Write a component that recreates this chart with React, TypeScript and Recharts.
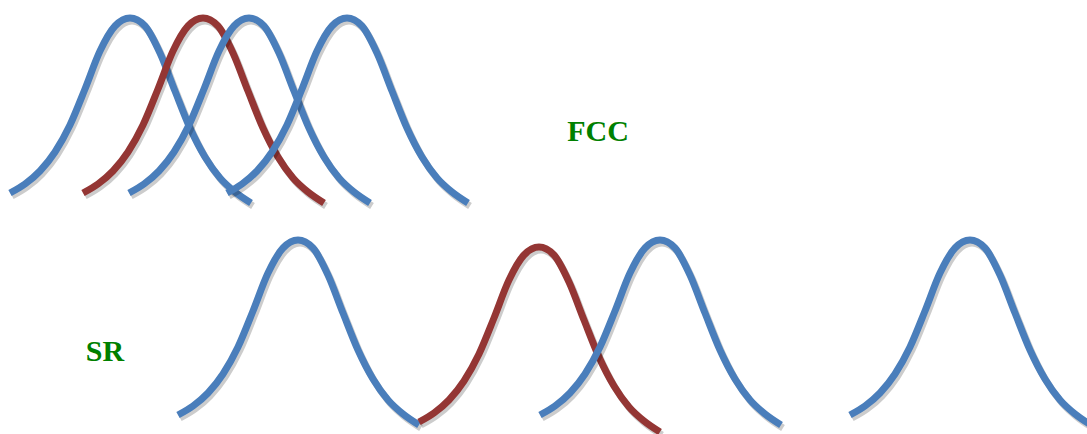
import React from "react";
import { LineChart, Line, XAxis, YAxis } from "recharts";

// Shared bell profile: horizontal offset from the peak (px)
// and how far below the peak the line lies (px).
const profileDx = [-120, -105, -90, -75, -60, -45, -30, -15, 0, 15, 30, 45, 60, 75, 90, 105, 121];
const profileDy = [175, 166, 153, 134, 107, 71, 33, 8, 0, 8, 35, 73, 110, 139, 160, 174, 185];

// Curve peaks (x, y in picture units) and colours
const curveNames = ["fcc1", "fcc2", "fcc3", "fcc4", "sr1", "sr2", "sr3", "sr4"];
const peakX = [130, 203, 249, 347, 298, 539, 660, 970];
const peakY = [18, 18, 18, 18, 240, 247, 240, 240];
const curveColors = ["#4A7EBB", "#943634", "#4A7EBB", "#4A7EBB", "#4A7EBB", "#943634", "#4A7EBB", "#4A7EBB"];

const labels = ["FCC", "SR"];

const W = 1087;
const H = 434;

const curves = curveNames.map((name, i) => ({
  name,
  color: curveColors[i],
  data: profileDx.map((dx, k) => ({ x: peakX[i] + dx, y: peakY[i] + profileDy[k] })),
}));

const labelStyle: React.CSSProperties = {
  position: "absolute",
  width: 100,
  textAlign: "center",
  fontFamily: "'Liberation Serif', 'Times New Roman', serif",
  fontWeight: "bold",
  fontSize: 30,
  lineHeight: "34px",
  color: "#008000",
};

export default function App() {
  return (
    <div style={{ position: "absolute", left: 0, top: 0, width: W, height: H, background: "#fff" }}>
      <style>{`.bell .recharts-line-curve{filter:drop-shadow(2px 3px 0.6px rgba(0,0,0,0.2));}`}</style>
      <LineChart width={W} height={H} margin={{ top: 0, right: 0, bottom: 0, left: 0 }} className="bell">
        <XAxis type="number" dataKey="x" domain={[0, W]} allowDataOverflow hide />
        <YAxis type="number" dataKey="y" domain={[0, H]} reversed allowDataOverflow hide />
        {curves.map((c) => (
          <Line
            key={c.name}
            data={c.data}
            dataKey="y"
            type="monotone"
            stroke={c.color}
            strokeWidth={7}
            strokeLinecap="butt"
            dot={false}
            activeDot={false}
            isAnimationActive={false}
          />
        ))}
      </LineChart>
      <div style={{ ...labelStyle, left: 548, top: 114 }}>{labels[0]}</div>
      <div style={{ ...labelStyle, left: 55, top: 334 }}>{labels[1]}</div>
    </div>
  );
}
